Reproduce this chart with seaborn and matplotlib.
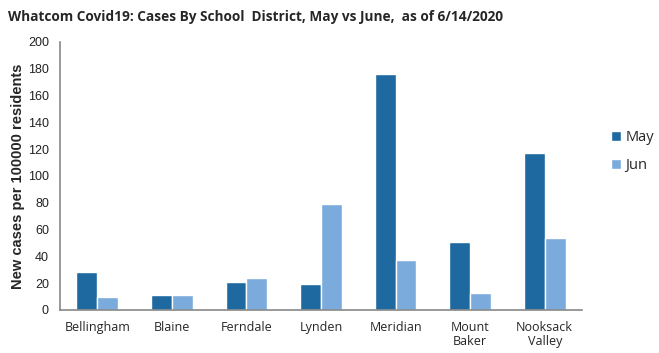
import matplotlib.pyplot as plt
import numpy as np
import pandas as pd
import seaborn as sns

# values
districts = ["Bellingham", "Blaine", "Ferndale", "Lynden", "Meridian", "Mount\nBaker", "Nooksack\nValley"]
may_cases = [28.4, 11.2, 20.9, 19.4, 176.1, 50.7, 117.2]
jun_cases = [9.7, 11.2, 23.9, 79.1, 37.3, 12.7, 53.7]
months = ["May", "Jun"]
y_ticks = list(range(0, 201, 20))

df = pd.DataFrame({
    "District": districts * 2,
    "Month": [months[0]] * len(districts) + [months[1]] * len(districts),
    "Cases": may_cases + jun_cases,
})

sns.set_style("white")
plt.rcParams['font.family'] = ['Liberation Sans', 'DejaVu Sans']

fig = plt.figure(figsize=(6.59, 3.53), dpi=100)
ax = fig.add_axes([60 / 659, 1 - 310 / 353, 522 / 659, 268 / 353])

sns.barplot(data=df, x="District", y="Cases", hue="Month", order=districts, hue_order=months,
            palette=["#1F69A1", "#7BABDC"], width=0.56, saturation=1, gap=0, ax=ax)

ax.set_ylim(0, 200)
ax.set_xlim(-0.5, len(districts) - 0.5)
ax.set_yticks(y_ticks)
ax.set_yticklabels([str(t) for t in y_ticks], fontsize=9, color="#222222")

# excel-style ticks between categories
ax.set_xticks(np.arange(len(districts)))
ax.set_xticklabels(districts, fontsize=9, family="Open Sans", linespacing=1.1)
ax.set_xticks(np.arange(-0.5, len(districts)), minor=True)
ax.tick_params(axis="x", which="major", length=0, pad=8)
ax.tick_params(axis="x", which="minor", length=4, color="#888888", direction="out", width=1)
ax.tick_params(axis="y", length=4, color="#888888", direction="out", width=1, pad=4)

for side in ["top", "right"]:
    ax.spines[side].set_visible(False)
for side in ["left", "bottom"]:
    ax.spines[side].set_color("#888888")
    ax.spines[side].set_linewidth(1.2)

ax.set_xlabel("")
ax.set_ylabel("New cases per 100000 residents", fontsize=10.5, fontweight="bold", labelpad=2)

ax.legend(loc="upper left", bbox_to_anchor=(1.03, 0.72), frameon=False, handlelength=0.7,
          handleheight=0.7, handletextpad=0.3, labelspacing=0.9, prop={"family": "Open Sans", "size": 10.5})

fig.text(8 / 659, 1 - 17 / 353, "Whatcom Covid19: Cases By School  District, May vs June,  as of 6/14/2020",
         fontsize=9.8, fontweight="bold", family="Open Sans", va="center", ha="left")

fig.savefig("out.png", dpi=100)
